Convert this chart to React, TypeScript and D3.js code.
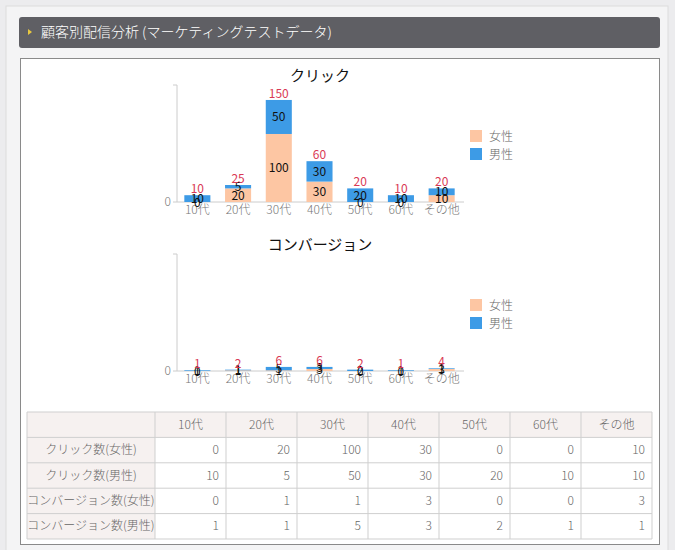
import React from "react";
import * as d3 from "d3";

const categories = ["10代", "20代", "30代", "40代", "50代", "60代", "その他"];
const clickFemale = [0, 20, 100, 30, 0, 0, 10];
const clickMale = [10, 5, 50, 30, 20, 10, 10];
const convFemale = [0, 1, 1, 3, 0, 0, 3];
const convMale = [1, 1, 5, 3, 2, 1, 1];
const seriesNames = ["女性", "男性"];
const tableRowLabels = ["クリック数(女性)", "クリック数(男性)", "コンバージョン数(女性)", "コンバージョン数(男性)"];
const yMax = 172;

const FONT = "'Noto Sans CJK JP', 'Noto Sans', sans-serif";
const COLORS = ["#fdc6a3", "#3d9be6"];

function Chart({ title, female, male, top }: { title: string; female: number[]; male: number[]; top: number }) {
  const x = d3.scaleBand<string>().domain(categories).range([177, 462]).paddingInner(0.36).paddingOuter(0.18);
  const baseY = top + 144;
  const y = d3.scaleLinear().domain([0, yMax]).range([baseY, baseY - 117]);
  const rows = categories.map((c, i) => ({ cat: c, f: female[i], m: male[i] }));
  const stack = d3.stack<any>().keys(["f", "m"])(rows);
  return (
    <g fontFamily={FONT}>
      <text x={320} y={top + 23} textAnchor="middle" fontSize={15} fill="#111">{title}</text>
      <line x1={177} x2={177} y1={y(yMax)} y2={baseY} stroke="#ccc" />
      <line x1={173} x2={177} y1={y(yMax)} y2={y(yMax)} stroke="#ccc" />
      <line x1={173} x2={464} y1={baseY} y2={baseY} stroke="#ccc" />
      <text x={171} y={baseY + 4} textAnchor="end" fontSize={12} fontWeight={300} fill="#777">0</text>
      {stack.map((s, si) =>
        s.map((d, i) => (
          <rect key={si + "-" + i} x={x(categories[i])} width={x.bandwidth()} y={y(d[1])} height={y(d[0]) - y(d[1])} fill={COLORS[si]} />
        ))
      )}
      {categories.map((c) => (
        <text key={"xl" + c} x={(x(c) as number) + x.bandwidth() / 2} y={baseY + 12} textAnchor="middle" fontSize={12} fontWeight={300} fill="#777">{c}</text>
      ))}
      {stack.map((s, si) =>
        s.map((d, i) => (
          <text key={"sl" + si + "-" + i} x={(x(categories[i]) as number) + x.bandwidth() / 2} y={(y(d[0]) + y(d[1])) / 2 + 4.5} textAnchor="middle" fontSize={12} fill="#111">
            {d[1] - d[0]}
          </text>
        ))
      )}
      {rows.map((r, i) => (
        <text key={"tl" + i} x={(x(r.cat) as number) + x.bandwidth() / 2} y={y(r.f + r.m) - 2} textAnchor="middle" fontSize={12} fill="#d93a55">
          {r.f + r.m}
        </text>
      ))}
      {seriesNames.map((n, i) => (
        <g key={n}>
          <rect x={470} y={top + 72 + i * 18} width={12} height={12} fill={COLORS[i]} />
          <text x={489} y={top + 83 + i * 18} fontSize={12} fontWeight={300} fill="#666">{n}</text>
        </g>
      ))}
    </g>
  );
}

function Table() {
  const left = 27;
  const top = 412;
  const firstW = 128;
  const colW = 71;
  const rowH = 25.4;
  const data = [clickFemale, clickMale, convFemale, convMale];
  const colX = (j: number) => left + firstW + j * colW;
  const right = colX(categories.length);
  const bottom = top + rowH * 5;
  return (
    <g fontFamily={FONT} fontSize={12} fontWeight={300} fill="#555">
      <rect x={left} y={top} width={right - left} height={rowH} fill="#f6f1f0" />
      <rect x={left} y={top} width={firstW} height={rowH * 5} fill="#f6f1f0" />
      {d3.range(6).map((r) => (
        <line key={"h" + r} x1={left} x2={right} y1={top + r * rowH} y2={top + r * rowH} stroke="#cfcfcf" />
      ))}
      {d3.range(categories.length + 2).map((j) => {
        const xx = j === 0 ? left : colX(j - 1);
        return <line key={"v" + j} x1={xx} x2={xx} y1={top} y2={bottom} stroke="#cfcfcf" />;
      })}
      {categories.map((c, j) => (
        <text key={"th" + c} x={colX(j) + colW / 2} y={top + rowH / 2 + 4} textAnchor="middle" fill="#666">{c}</text>
      ))}
      {tableRowLabels.map((l, r) => (
        <text key={"rl" + r} x={left + firstW / 2} y={top + (r + 1) * rowH + rowH / 2 + 4} textAnchor="middle" fill="#666">{l}</text>
      ))}
      {data.map((row, r) =>
        row.map((v, j) => (
          <text key={"c" + r + "-" + j} x={colX(j + 1) - 7} y={top + (r + 1) * rowH + rowH / 2 + 4} textAnchor="end" fill="#666">{v}</text>
        ))
      )}
    </g>
  );
}

export default function App() {
  return (
    <svg width={675} height={550} style={{ position: "absolute", left: 0, top: 0 }}>
      <rect x={0} y={0} width={675} height={550} fill="#ececee" />
      <rect x={6} y={6} width={662} height={550} fill="#f4f4f5" stroke="#dcdcdc" />
      <rect x={19} y={17} width={641} height={31} rx={3} fill="#5f5f64" />
      <path d="M28,29 L32,32 L28,35 Z" fill="#e8c840" />
      <text x={41} y={37} fontFamily={FONT} fontSize={14} fontWeight={300} fill="#ffffff">顧客別配信分析 (マーケティングテストデータ)</text>
      <rect x={20.5} y={58.5} width={639} height={486} fill="#ffffff" stroke="#8a8a8a" />
      <Chart title="クリック" female={clickFemale} male={clickMale} top={58} />
      <Chart title="コンバージョン" female={convFemale} male={convMale} top={227} />
      <Table />
    </svg>
  );
}
